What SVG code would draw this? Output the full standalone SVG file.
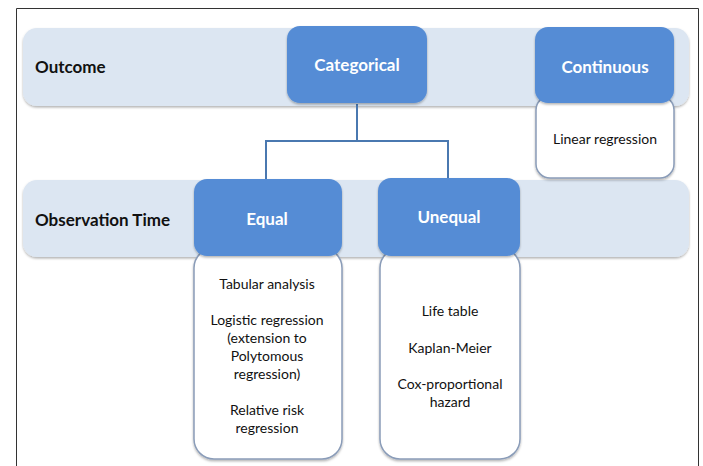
<svg xmlns="http://www.w3.org/2000/svg" width="703" height="466" viewBox="0 0 703 466">
  <defs>
    <filter id="shadow" x="-5%" y="-10%" width="110%" height="130%">
      <feDropShadow dx="0" dy="1.5" stdDeviation="1" flood-color="#000" flood-opacity="0.3"/>
    </filter>
  </defs>
  <style>
    .band { fill: #dce6f2; filter: url(#shadow); }
    .head { fill: #558cd5; filter: url(#shadow); }
    .list { fill: #ffffff; stroke: #8a9cb8; stroke-width: 1.5; filter: url(#shadow); }
    .label { font-family: Lato, "Liberation Sans", sans-serif; font-weight: bold; font-size: 17px; fill: #111; }
    .htext { font-family: Lato, "Liberation Sans", sans-serif; font-weight: bold; font-size: 17px; fill: #ffffff; text-anchor: middle; }
    .ltext { font-family: Lato, "Liberation Sans", sans-serif; font-size: 14px; fill: #111; text-anchor: middle; }
    .conn { fill: none; stroke: #4a78b0; stroke-width: 2; }
  </style>

  <rect width="703" height="466" fill="#ffffff"/>
  <!-- outer frame -->
  <path d="M16.5 470 V8.5 H698.5 V470" fill="none" stroke="#333" stroke-width="1"/>

  <!-- horizontal bands -->
  <g id="band-outcome">
    <rect class="band" x="23" y="28" width="666" height="78" rx="14"/>
    <text class="label" x="35" y="73">Outcome</text>
  </g>
  <g id="band-observation">
    <rect class="band" x="23" y="180" width="666" height="77" rx="14"/>
    <text class="label" x="35" y="226">Observation Time</text>
  </g>

  <!-- connectors -->
  <g id="connectors">
    <path class="conn" d="M357 104 V141 M266 141 H448 M266 140 V179 M448 140 V178"/>
  </g>

  <!-- list boxes -->
  <g id="linear-list">
    <rect class="list" x="536" y="96" width="138" height="82" rx="14"/>
    <text class="ltext" x="605" y="144">Linear regression</text>
  </g>
  <g id="equal-list">
    <rect class="list" x="194" y="248" width="148" height="211" rx="20"/>
    <text class="ltext" x="267" y="289">Tabular analysis</text>
    <text class="ltext" x="267" y="325">Logistic regression</text>
    <text class="ltext" x="267" y="343">(extension to</text>
    <text class="ltext" x="267" y="361">Polytomous</text>
    <text class="ltext" x="267" y="379">regression)</text>
    <text class="ltext" x="267" y="415">Relative risk</text>
    <text class="ltext" x="267" y="433">regression</text>
  </g>
  <g id="unequal-list">
    <rect class="list" x="380" y="248" width="140" height="211" rx="20"/>
    <text class="ltext" x="450" y="316">Life table</text>
    <text class="ltext" x="450" y="353">Kaplan-Meier</text>
    <text class="ltext" x="450" y="389">Cox-proportional</text>
    <text class="ltext" x="450" y="407">hazard</text>
  </g>

  <!-- header nodes -->
  <g id="categorical">
    <rect class="head" x="287" y="26" width="140" height="77" rx="13"/>
    <text class="htext" x="357" y="71">Categorical</text>
  </g>
  <g id="continuous">
    <rect class="head" x="535" y="27" width="139" height="76" rx="13"/>
    <text class="htext" x="605" y="73">Continuous</text>
  </g>
  <g id="equal">
    <rect class="head" x="194" y="179" width="148" height="77" rx="13"/>
    <text class="htext" x="267" y="225">Equal</text>
  </g>
  <g id="unequal">
    <rect class="head" x="378" y="178" width="142" height="78" rx="13"/>
    <text class="htext" x="449" y="223">Unequal</text>
  </g>
</svg>
